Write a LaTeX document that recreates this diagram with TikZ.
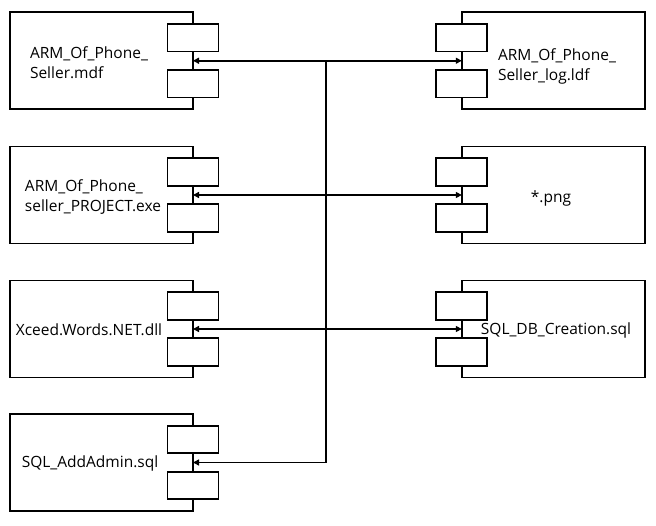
\documentclass[tikz,border=0pt]{standalone}
\usepackage{fontspec}
\setmainfont{Open Sans}
\usetikzlibrary{arrows.meta}
\begin{document}
\begin{tikzpicture}[x=1pt,y=-1pt,
  comp/.style={draw,line width=1.8pt,minimum width=183pt,minimum height=97pt,inner sep=0pt,outer sep=0pt},
  port/.style={draw,fill=white,line width=1.8pt,minimum width=51pt,minimum height=27.5pt,inner sep=0pt,outer sep=0pt},
  lbl/.style={font=\fontsize{15.5}{20}\selectfont,align=left,inner sep=0pt},
  link/.style={line width=1.8pt,-{Triangle[length=6pt,width=6pt]}},
  dlink/.style={line width=1.8pt,{Triangle[length=6pt,width=6pt]}-{Triangle[length=6pt,width=6pt]}}]
\useasboundingbox (0,0) rectangle (656,526);
% left components
\node[comp] (l1) at (101.5,60.75) {};
\node[comp] (l2) at (101.5,195) {};
\node[comp] (l3) at (101.5,329) {};
\node[comp] (l4) at (101.5,462.5) {};
% right components
\node[comp] (r1) at (553.3,60.75) {};
\node[comp] (r2) at (553.3,195) {};
\node[comp] (r3) at (553.3,329) {};
% ports
\foreach \n in {l1,l2,l3,l4}{
  \node[port] (\n t) at ([yshift=-23pt]\n.east) {};
  \node[port] (\n b) at ([yshift=23pt]\n.east) {};
}
\foreach \n in {r1,r2,r3}{
  \node[port] (\n t) at ([yshift=-23pt]\n.west) {};
  \node[port] (\n b) at ([yshift=23pt]\n.west) {};
}
% labels
\node[lbl] (tl1) at (89,63) {ARM\_Of\_Phone\_\\Seller.mdf};
\node[lbl] (tl2) at (93,197) {ARM\_Of\_Phone\_\\seller\_PROJECT.exe};
\node[lbl] (tl3) at (89,330) {Xceed.Words.NET.dll};
\node[lbl] (tl4) at (90,463) {SQL\_AddAdmin.sql};
\node[lbl] (tr1) at (557,66) {ARM\_Of\_Phone\_\\Seller\_log.ldf};
\node[lbl] (tr2) at (551,198) {*.png};
\node[lbl] (tr3) at (556,330) {SQL\_DB\_Creation.sql};
% connectors
\coordinate (j1) at (326,60.75);
\coordinate (j4) at (326,462.5);
\draw[link] (j1) -- (l1.east);
\draw[link] (j1) -- (r1.west);
\draw[line width=1.8pt] (j1) -- (j4);
\draw[link] (j4) -- (l4.east);
\draw[dlink] (l2.east) -- (r2.west);
\draw[dlink] (l3.east) -- (r3.west);
\end{tikzpicture}
\end{document}
